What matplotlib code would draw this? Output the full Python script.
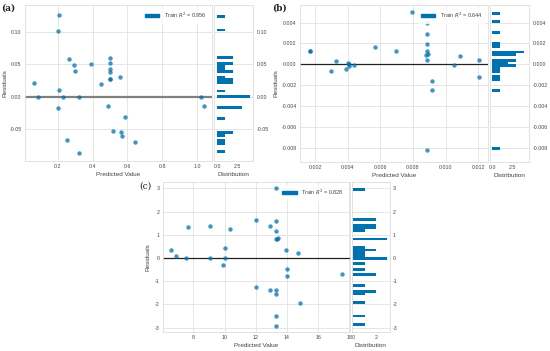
import matplotlib.pyplot as plt
from matplotlib.patches import Patch

plt.rcParams['font.family'] = ['Liberation Sans', 'DejaVu Sans']
plt.rcParams['axes.unicode_minus'] = False

# panel (a)
a_pred = [0.206, 0.202, 0.265, 0.291, 0.297, 0.390, 0.501, 0.501, 0.501, 0.501,
          0.501, 0.501, 0.556, 0.448, 0.067, 0.210, 0.088, 0.230, 0.322, 0.202,
          0.491, 0.583, 0.518, 0.562, 0.568, 0.642, 0.255, 0.322, 1.021, 1.036]
a_resid = [0.126, 0.101, 0.058, 0.049, 0.039, 0.051, 0.059, 0.052, 0.043, 0.038,
           0.027, 0.027, 0.031, 0.020, 0.0205, 0.0097, 0.0, 0.0, 0.0, -0.018,
           -0.015, -0.032, -0.053, -0.055, -0.061, -0.070, -0.067, -0.087, 0.0, -0.015]
a_r2 = 0.956

# panel (b)
b_pred = [0.00169, 0.00169, 0.00298, 0.00329, 0.00388, 0.00402, 0.00410, 0.00406,
          0.00437, 0.00568, 0.00697, 0.00797, 0.00889, 0.00889, 0.00889, 0.00889,
          0.00883, 0.00891, 0.00889, 0.00914, 0.00914, 0.00889, 0.01050, 0.01090,
          0.01206, 0.01208]
b_resid = [0.00131, 0.00131, -0.00061, 0.00029, -0.00041, 0.00016, -0.00010, 0.00003,
           -0.00003, 0.00169, 0.00127, 0.00500, 0.00395, 0.00293, 0.00194, 0.00131,
           0.00089, 0.00096, 0.00038, -0.00156, -0.00239, -0.00815, -0.00003, 0.00080,
           0.00041, -0.00121]
b_r2 = 0.644

# panel (c)
c_pred = [13.30, 12.01, 13.30, 12.91, 13.30, 13.28, 13.45, 13.35, 9.05, 7.66,
          10.38, 10.02, 6.58, 6.86, 7.55, 9.05, 10.02, 9.87, 13.92, 14.70,
          14.03, 14.03, 17.51, 12.01, 12.91, 13.30, 13.30, 14.85, 13.30, 13.30]
c_resid = [3.01, 1.65, 1.60, 1.39, 1.15, 0.83, 0.86, 0.84, 1.40, 1.35,
           1.25, 0.43, 0.34, 0.10, 0.0, 0.0, 0.0, -0.30, 0.34, 0.20,
           -0.46, -0.76, -0.69, -1.25, -1.38, -1.39, -1.55, -1.92, -2.52, -2.91]
c_r2 = 0.828

BLUE = '#0072B2'
TXT = '#444444'
W, H = 550, 351

fig = plt.figure(figsize=(5.5, 3.51), dpi=100)


def rect(x0, y0, x1, y1):
    # pixel box -> figure fraction
    return [x0 / W, 1 - y1 / H, (x1 - x0) / W, (y1 - y0) / H]


def style(ax):
    ax.set_facecolor('white')
    for s in ax.spines.values():
        s.set_color('#dddddd')
        s.set_linewidth(0.6)
    ax.grid(True, color='#e2e2e2', linewidth=0.6)
    ax.set_axisbelow(True)
    ax.tick_params(length=0, labelsize=3.8, labelcolor=TXT, pad=2.5)


def panel(box, hbox, pred, resid, r2, xlim, ylim, xticks, yticks,
          hxlim, hxticks, hxlabels, line_c, line_w, ylab_x):
    ax = fig.add_axes(rect(*box))
    hax = fig.add_axes(rect(*hbox), sharey=ax)
    style(ax)
    style(hax)

    ax.scatter(pred, resid, s=10, color=BLUE, alpha=0.75, linewidths=0, zorder=3)
    ax.axhline(0, color=line_c, linewidth=line_w, zorder=2)
    ax.set_xlim(*xlim)
    ax.set_ylim(*ylim)
    ax.set_xticks(xticks)
    ax.set_yticks(yticks)
    ax.set_xlabel('Predicted Value', fontsize=4.6, color=TXT, labelpad=1.5)
    ax.set_ylabel('Residuals', fontsize=4.6, color=TXT)
    ax.yaxis.set_label_coords((ylab_x - box[0]) / (box[2] - box[0]), 0.5)
    ax.legend(handles=[Patch(color=BLUE, label='Train $R^2$ = %.3f' % r2)],
              loc='upper right', fontsize=4, frameon=True, edgecolor='white',
              handlelength=2.6, handleheight=0.6, borderpad=0.5,
              labelcolor=TXT)

    hax.hist(resid, bins=50, orientation='horizontal', color=BLUE, zorder=3)
    hax.grid(False, axis='x')
    hax.set_xlim(*hxlim)
    hax.set_xticks(hxticks)
    hax.set_xticklabels(hxlabels)
    hax.yaxis.tick_right()
    hax.tick_params(axis='y', labelleft=False, labelright=True)
    hax.set_xlabel('Distribution', fontsize=4.6, color=TXT, labelpad=1.5)
    return ax


panel((25, 5, 212, 161), (213.5, 5, 253, 161), a_pred, a_resid, a_r2,
      (0.013, 1.084), (-0.099, 0.141), [0.2, 0.4, 0.6, 0.8, 1.0],
      [-0.05, 0.0, 0.05, 0.10], (-0.44, 4.4), [0, 2.5], ['0.0', '2.5'],
      '#808080', 1.6, 8)

panel((300, 5, 488, 162), (490, 5, 529, 162), b_pred, b_resid, b_r2,
      (0.00106, 0.01261), (-0.0093, 0.00567),
      [0.002, 0.004, 0.006, 0.008, 0.010, 0.012],
      [-0.008, -0.006, -0.004, -0.002, 0.0, 0.002, 0.004],
      (-0.3, 4.6), [0, 2.5], ['0.0', '2.5'], '#222222', 0.9, 279)

panel((163, 182, 349.5, 332), (352, 182, 389.5, 332), c_pred, c_resid, c_r2,
      (6.05, 18.02), (-3.19, 3.28), [8, 10, 12, 14, 16, 18],
      [-3, -2, -1, 0, 1, 2, 3], (-0.12, 3.2), [0, 2], ['0', '2'],
      '#222222', 0.9, 150)

fig.text(1 / W, 1 - 11 / H, '(a)', fontsize=6.5, fontweight='bold',
         family='serif', color='#222222')
fig.text(272 / W, 1 - 11 / H, '(b)', fontsize=6.5, fontweight='bold',
         family='serif', color='#222222')
fig.text(139 / W, 1 - 189 / H, '(c)', fontsize=6.5, family='serif',
         color='#222222')

fig.savefig('out.png', dpi=100, facecolor='white')
